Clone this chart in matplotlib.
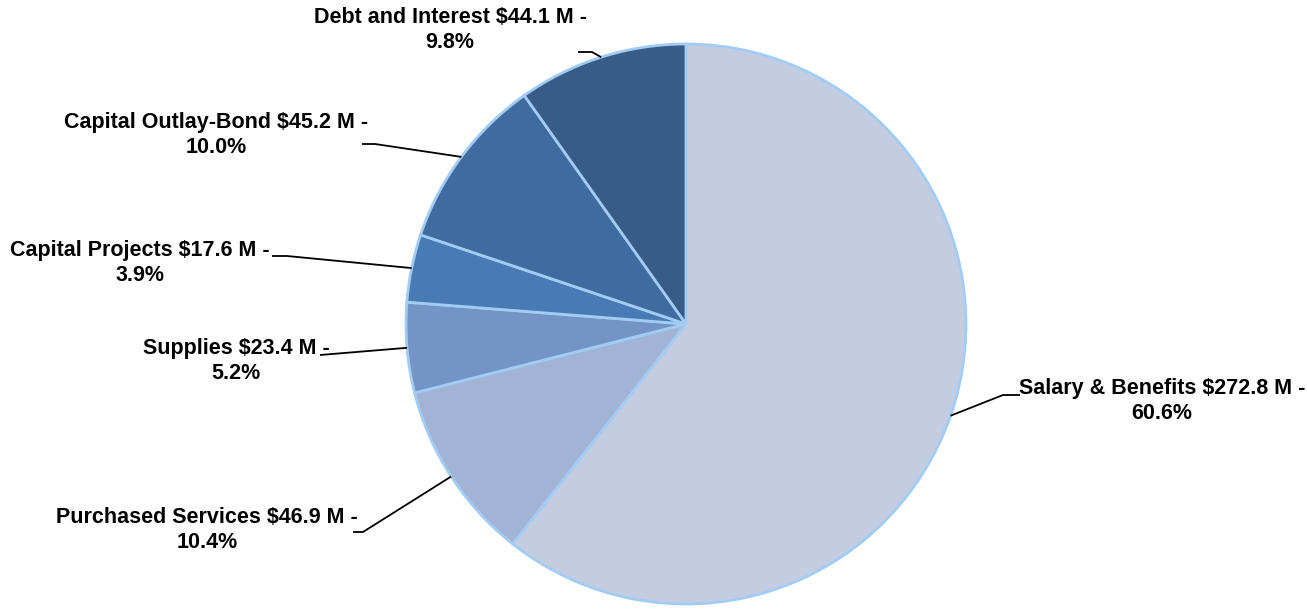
import numpy as np
import matplotlib.pyplot as plt

# budget by category, $ millions
categories = ["Salary & Benefits", "Purchased Services", "Supplies",
              "Capital Projects", "Capital Outlay-Bond", "Debt and Interest"]
amounts = [272.8, 46.9, 23.4, 17.6, 45.2, 44.1]
colors = ["#C3CCE1", "#A2B4D5", "#7395C6", "#487AB4", "#3F6B9F", "#375C88"]

W, H = 1307, 609
fig = plt.figure(figsize=(W / 100, H / 100), dpi=100)
ax = fig.add_axes([0, 0, 1, 1])

cx, cy, r = 686, H - 324, 280
explode = [0.008, 0, 0, 0, 0, 0]
wedges, _ = ax.pie(amounts, colors=colors, startangle=90, counterclock=False,
                   radius=r, center=(cx, cy), explode=explode,
                   wedgeprops=dict(edgecolor="#A2CCF4", linewidth=2.0),
                   frame=True)
ax.set_xlim(0, W)
ax.set_ylim(0, H)
ax.axis("off")

total = sum(amounts)
# label layout (pixel coords, y from top): text centre, elbow point, line end at text
layout = [
    ((1162, 401), (1003, 395), (1020, 395)),
    ((207, 530), (363, 532), (353, 532)),
    ((236, 361), (320, 355), (320, 355)),
    ((140, 263), (287, 256), (272, 256)),
    ((216, 135), (375, 144), (362, 144)),
    ((450, 30), (592, 52), (578, 52)),
]
for w, name, val, (tpos, elbow, lend) in zip(wedges, categories, amounts, layout):
    ang = np.deg2rad((w.theta1 + w.theta2) / 2)
    ex = w.center[0] + r * np.cos(ang)
    ey = w.center[1] + r * np.sin(ang)
    ax.plot([ex, elbow[0], lend[0]], [ey, H - elbow[1], H - lend[1]],
            color="black", lw=1.3, solid_capstyle="butt")
    ax.text(tpos[0], H - tpos[1],
            f"{name} ${val:.1f} M -\n{val / total * 100:.1f}%",
            ha="center", va="center", multialignment="center",
            fontsize=15.5, fontweight="bold", family="Liberation Sans",
            linespacing=1.25)

plt.savefig("out.png", dpi=100)
